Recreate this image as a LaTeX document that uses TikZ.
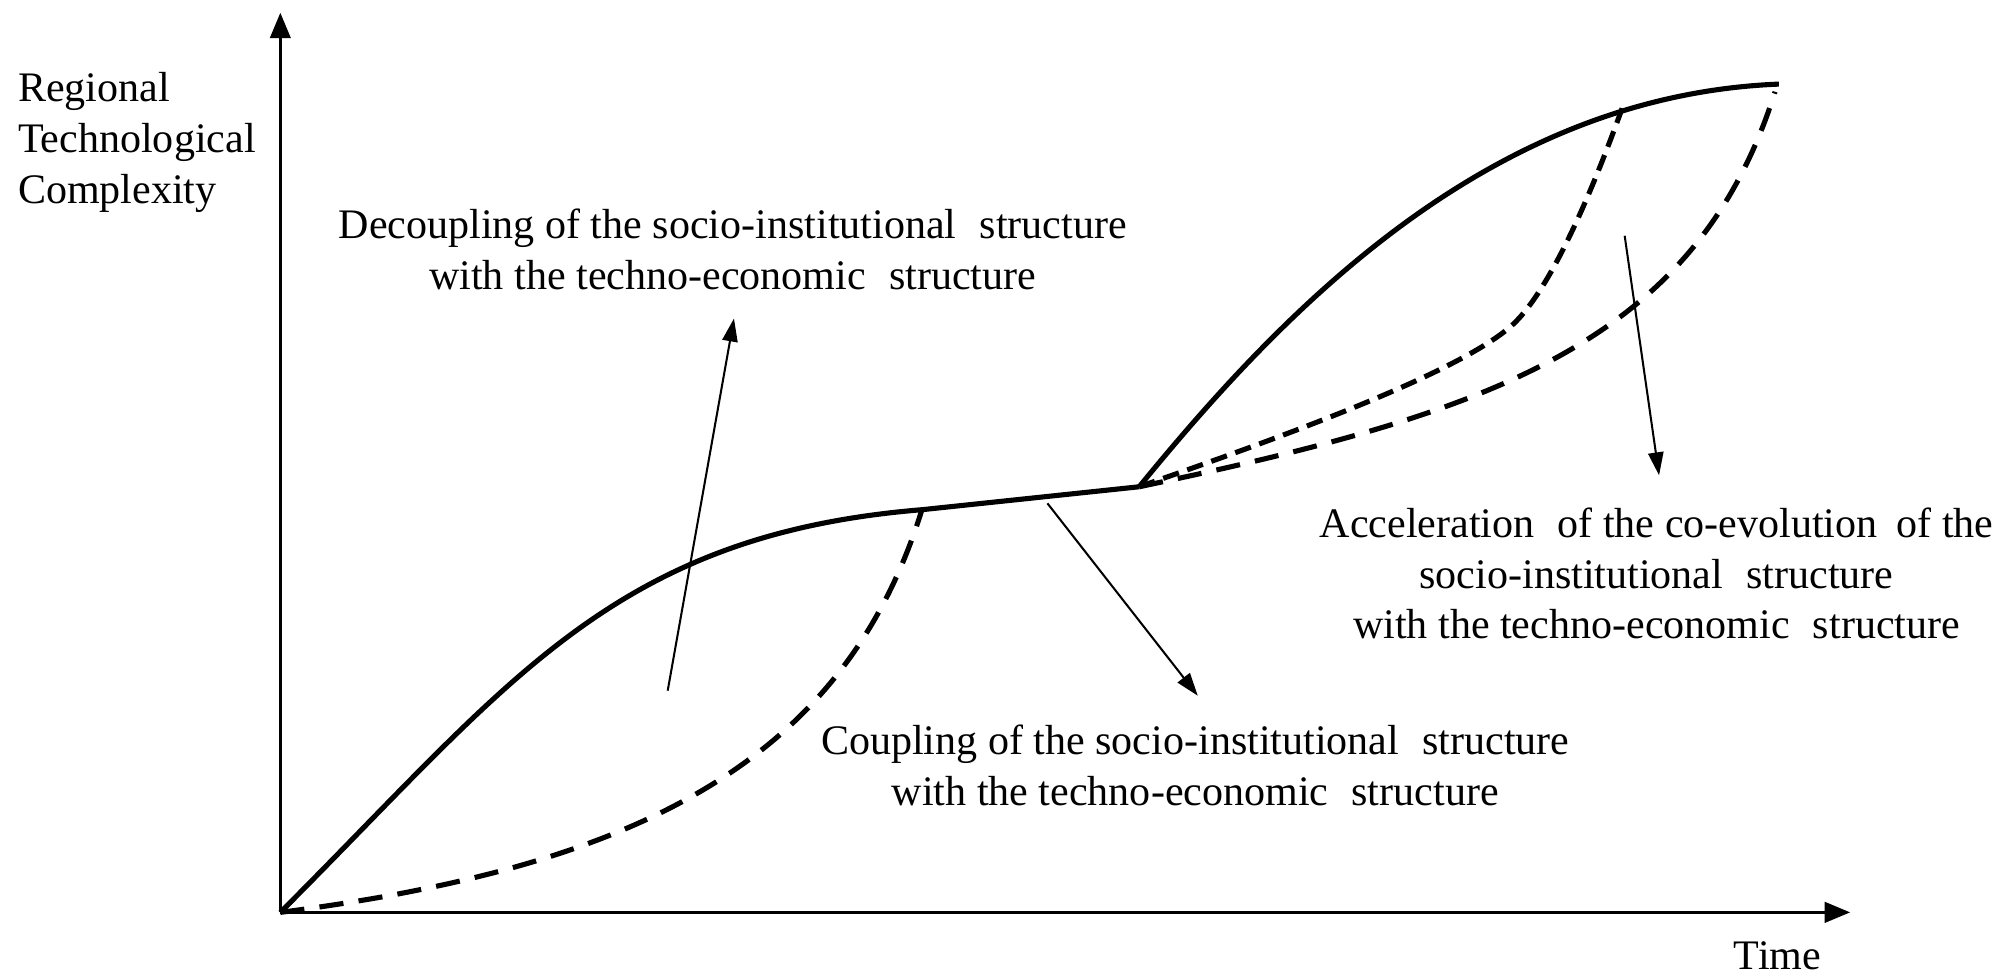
\documentclass[tikz,border=0pt]{standalone}
\usepackage{fontspec}
\setmainfont{Liberation Serif}
\usetikzlibrary{arrows.meta}
\tikzset{
  axis/.style={line width=2.4pt,-{Triangle[length=20pt,width=16pt]}},
  curve/.style={line width=4pt},
  dcurve/.style={line width=4pt,dash pattern=on 19pt off 12pt},
  dcurveb/.style={line width=4pt,dash pattern=on 13pt off 7pt},
  pointer/.style={line width=1.6pt,-{Triangle[length=18pt,width=12pt]}},
  lbl/.style={font=\fontsize{33}{40}\selectfont,align=center,inner sep=0pt}
}
\begin{document}
\begin{tikzpicture}[x=1pt,y=-1pt]
\useasboundingbox (0,0) rectangle (1568,769);
\coordinate (O) at (220,716);
\coordinate (ytop) at (220,10);
\coordinate (xend) at (1452,716);
\coordinate (A) at (723.5,400);
\coordinate (B) at (894,382);
\coordinate (K) at (1190,252);
\coordinate (C) at (1273,85);
\coordinate (D) at (1396,66);
\coordinate (D2) at (1393,72);
% axes
\draw[axis] (O) -- (ytop);
\draw[axis] (O) -- (xend);
% first period
\draw[curve,line join=round] (O) .. controls (400,536) and (480,420) .. (A) -- (B);
\draw[dcurve] (O) .. controls (500,680) and (662,598) .. (A);
% second period
\draw[curve] (B) .. controls (1010,240) and (1170,75) .. (D);
\draw[dcurveb] (B) .. controls (1000,345) and (1152,291) .. (K) .. controls (1222,219) and (1255,135) .. (C);
\draw[dcurve] (B) .. controls (1165,325) and (1330,272) .. (D2);
% labels
\node[lbl,anchor=west,align=left] (ylab) at (14,112) {Regional\\Technological\\Complexity};
\node[lbl] (xlab) at (1395,750) {Time};
\node[lbl] (dec) at (575,196) {Decoupling of the socio-institutional\hspace{0.3em} structure\\with the techno-economic\hspace{0.3em} structure};
\node[lbl] (cou) at (938,601) {Coupling of the socio-institutional\hspace{0.3em} structure\\with the techno-economic\hspace{0.3em} structure};
\node[lbl] (acc) at (1300,450) {Acceleration\hspace{0.3em} of the co-evolution\hspace{0.2em} of the\\socio-institutional\hspace{0.3em} structure\\with the techno-economic\hspace{0.3em} structure};
% pointers
\coordinate (p1s) at (524,542);
\coordinate (p1e) at (576,250);
\coordinate (p2s) at (822,395);
\coordinate (p2e) at (940,546);
\coordinate (p3s) at (1275,185);
\coordinate (p3e) at (1302,373);
\draw[pointer] (p1s) -- (p1e);
\draw[pointer] (p2s) -- (p2e);
\draw[pointer] (p3s) -- (p3e);
\end{tikzpicture}
\end{document}
